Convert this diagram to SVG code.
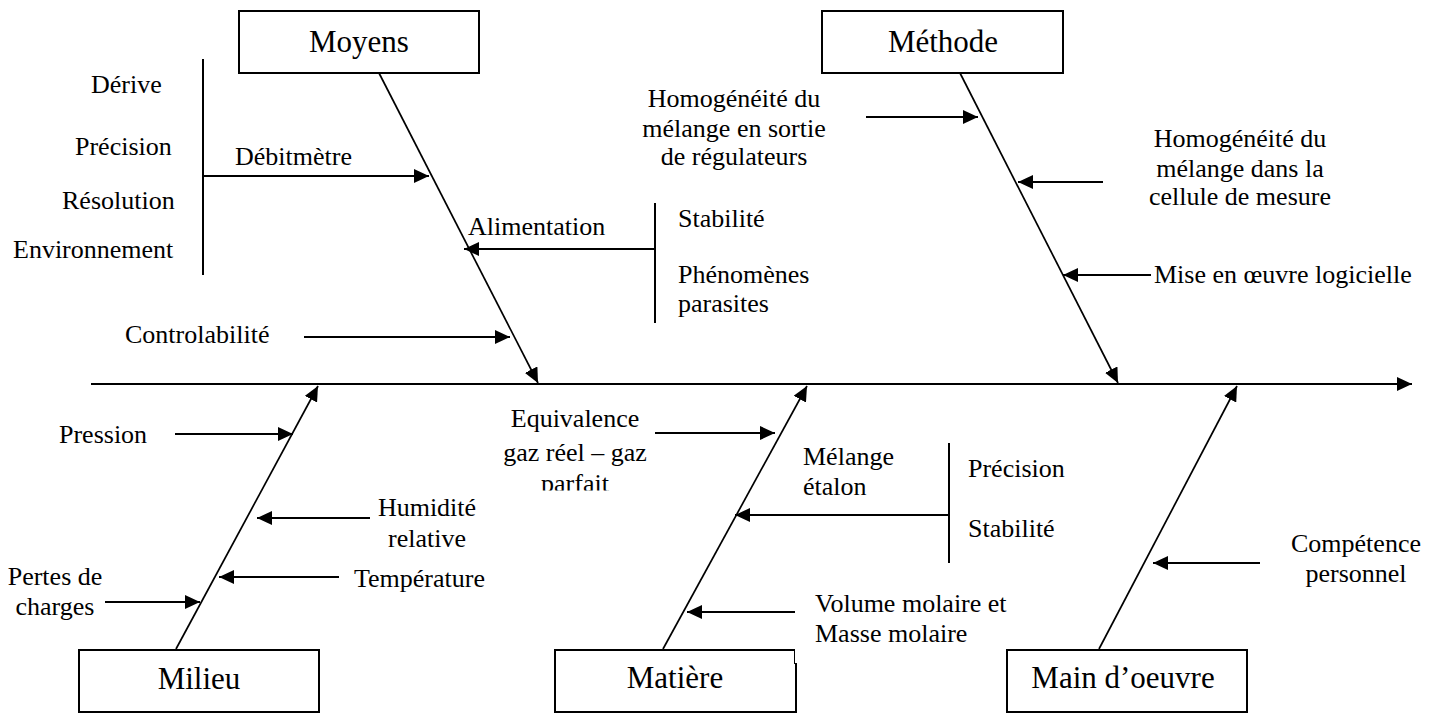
<svg xmlns="http://www.w3.org/2000/svg" width="1439" height="713" viewBox="0 0 1439 713">
<style>
text{font-family:"Liberation Serif","Times New Roman",serif;fill:#000}
.lbl{font-size:26px}
.box{font-size:31px;text-anchor:middle}
.mid{text-anchor:middle}
.node{fill:#fff;stroke:#000;stroke-width:2}
.ln{stroke:#000;stroke-width:2;fill:none}
.sp{stroke:#000;stroke-width:1.7;fill:none}
.ar{marker-end:url(#ah)}
</style>
<defs>
<marker id="ah" markerUnits="userSpaceOnUse" markerWidth="15" markerHeight="14" refX="15" refY="7" orient="auto">
<path d="M0,0 L15,7 L0,14 z" fill="#000"/>
</marker>
<clipPath id="clipEq"><rect x="480" y="400" width="200" height="90.5"/></clipPath>
</defs>
<rect width="1439" height="713" fill="#fff"/>
<g id="connectors">
<line class="ln ar" x1="91" y1="384" x2="1412" y2="384"/>
<line class="sp ar" x1="379" y1="73" x2="538" y2="383"/>
<line class="sp ar" x1="960" y1="73" x2="1118" y2="383"/>
<line class="sp ar" x1="176" y1="649" x2="318" y2="386"/>
<line class="sp ar" x1="663" y1="649" x2="807" y2="386"/>
<line class="sp ar" x1="1099" y1="649" x2="1237" y2="386"/>
<line class="ln" x1="203" y1="59" x2="203" y2="275"/>
<line class="ln" x1="655" y1="203" x2="655" y2="323"/>
<line class="ln" x1="949" y1="443" x2="949" y2="563"/>
<line class="ln ar" x1="203" y1="176" x2="429" y2="176"/>
<line class="ln ar" x1="655" y1="249" x2="464" y2="249"/>
<line class="ln ar" x1="304" y1="337" x2="510" y2="337"/>
<line class="ln ar" x1="866" y1="117" x2="978" y2="117"/>
<line class="ln ar" x1="1103" y1="182" x2="1018" y2="182"/>
<line class="ln ar" x1="1151" y1="275" x2="1063" y2="275"/>
<line class="ln ar" x1="175" y1="434" x2="293" y2="434"/>
<line class="ln ar" x1="370" y1="518" x2="257" y2="518"/>
<line class="ln ar" x1="339" y1="577" x2="219" y2="577"/>
<line class="ln ar" x1="105" y1="602" x2="200" y2="602"/>
<line class="ln ar" x1="655" y1="433" x2="775" y2="433"/>
<line class="ln ar" x1="949" y1="515" x2="735" y2="515"/>
<line class="ln ar" x1="795" y1="612" x2="687" y2="612"/>
<line class="ln ar" x1="1260" y1="563" x2="1153" y2="563"/>
</g>
<g id="moyens">
<rect class="node" x="239" y="11" width="240" height="62"/>
<text class="box" x="359" y="52">Moyens</text>
</g>
<g id="methode">
<rect class="node" x="822" y="11" width="241" height="62"/>
<text class="box" x="943" y="52">Méthode</text>
</g>
<g id="milieu">
<rect class="node" x="79" y="650" width="240" height="62"/>
<text class="box" x="199" y="689">Milieu</text>
</g>
<g id="matiere">
<path class="node" d="M794.5,650 H555 V712 H796"/>
<line x1="794.5" y1="649" x2="794.5" y2="664" stroke="#000" stroke-width="1"/>
<line x1="796" y1="663" x2="796" y2="713" stroke="#000" stroke-width="2"/>
<text class="box" x="675" y="688">Matière</text>
</g>
<g id="main-oeuvre">
<rect class="node" x="1007" y="650" width="240" height="62"/>
<text class="box" x="1123" y="688">Main d’oeuvre</text>
</g>
<g id="debitmetre">
<text class="lbl" x="235" y="165">Débitmètre</text>
<text class="lbl" x="91" y="93">Dérive</text>
<text class="lbl" x="75" y="155">Précision</text>
<text class="lbl" x="62" y="209">Résolution</text>
<text class="lbl" x="13" y="258">Environnement</text>
</g>
<g id="alimentation">
<text class="lbl" x="468" y="235">Alimentation</text>
<text class="lbl" x="678" y="227">Stabilité</text>
<text class="lbl" x="678" y="283">Phénomènes</text>
<text class="lbl" x="678" y="312">parasites</text>
</g>
<g id="controlabilite">
<text class="lbl" x="125" y="343">Controlabilité</text>
</g>
<g id="homog1">
<text class="lbl mid" x="734" y="107">Homogénéité du</text>
<text class="lbl mid" x="734" y="137">mélange en sortie</text>
<text class="lbl mid" x="734" y="165">de régulateurs</text>
</g>
<g id="homog2">
<text class="lbl mid" x="1240" y="147">Homogénéité du</text>
<text class="lbl mid" x="1240" y="177">mélange dans la</text>
<text class="lbl mid" x="1240" y="205">cellule de mesure</text>
</g>
<g id="logiciel">
<text class="lbl" x="1154" y="283">Mise en œuvre logicielle</text>
</g>
<g id="pression">
<text class="lbl" x="59" y="443">Pression</text>
</g>
<g id="humidite">
<text class="lbl mid" x="427" y="516">Humidité</text>
<text class="lbl mid" x="427" y="547">relative</text>
</g>
<g id="temperature">
<text class="lbl" x="354" y="587">Température</text>
</g>
<g id="pertes">
<text class="lbl mid" x="55" y="585">Pertes de</text>
<text class="lbl mid" x="55" y="615">charges</text>
</g>
<g id="equivalence">
<g clip-path="url(#clipEq)">
<text class="lbl mid" x="575" y="427">Equivalence</text>
<text class="lbl mid" x="575" y="461">gaz réel – gaz</text>
<text class="lbl mid" x="575" y="492">parfait</text>
</g>
</g>
<g id="melange">
<text class="lbl" x="803" y="465">Mélange</text>
<text class="lbl" x="803" y="495">étalon</text>
<text class="lbl" x="968" y="477">Précision</text>
<text class="lbl" x="968" y="537">Stabilité</text>
</g>
<g id="volume">
<text class="lbl" x="815" y="612">Volume molaire et</text>
<text class="lbl" x="815" y="642">Masse molaire</text>
</g>
<g id="competence">
<text class="lbl mid" x="1356" y="552">Compétence</text>
<text class="lbl mid" x="1356" y="582">personnel</text>
</g>
</svg>
